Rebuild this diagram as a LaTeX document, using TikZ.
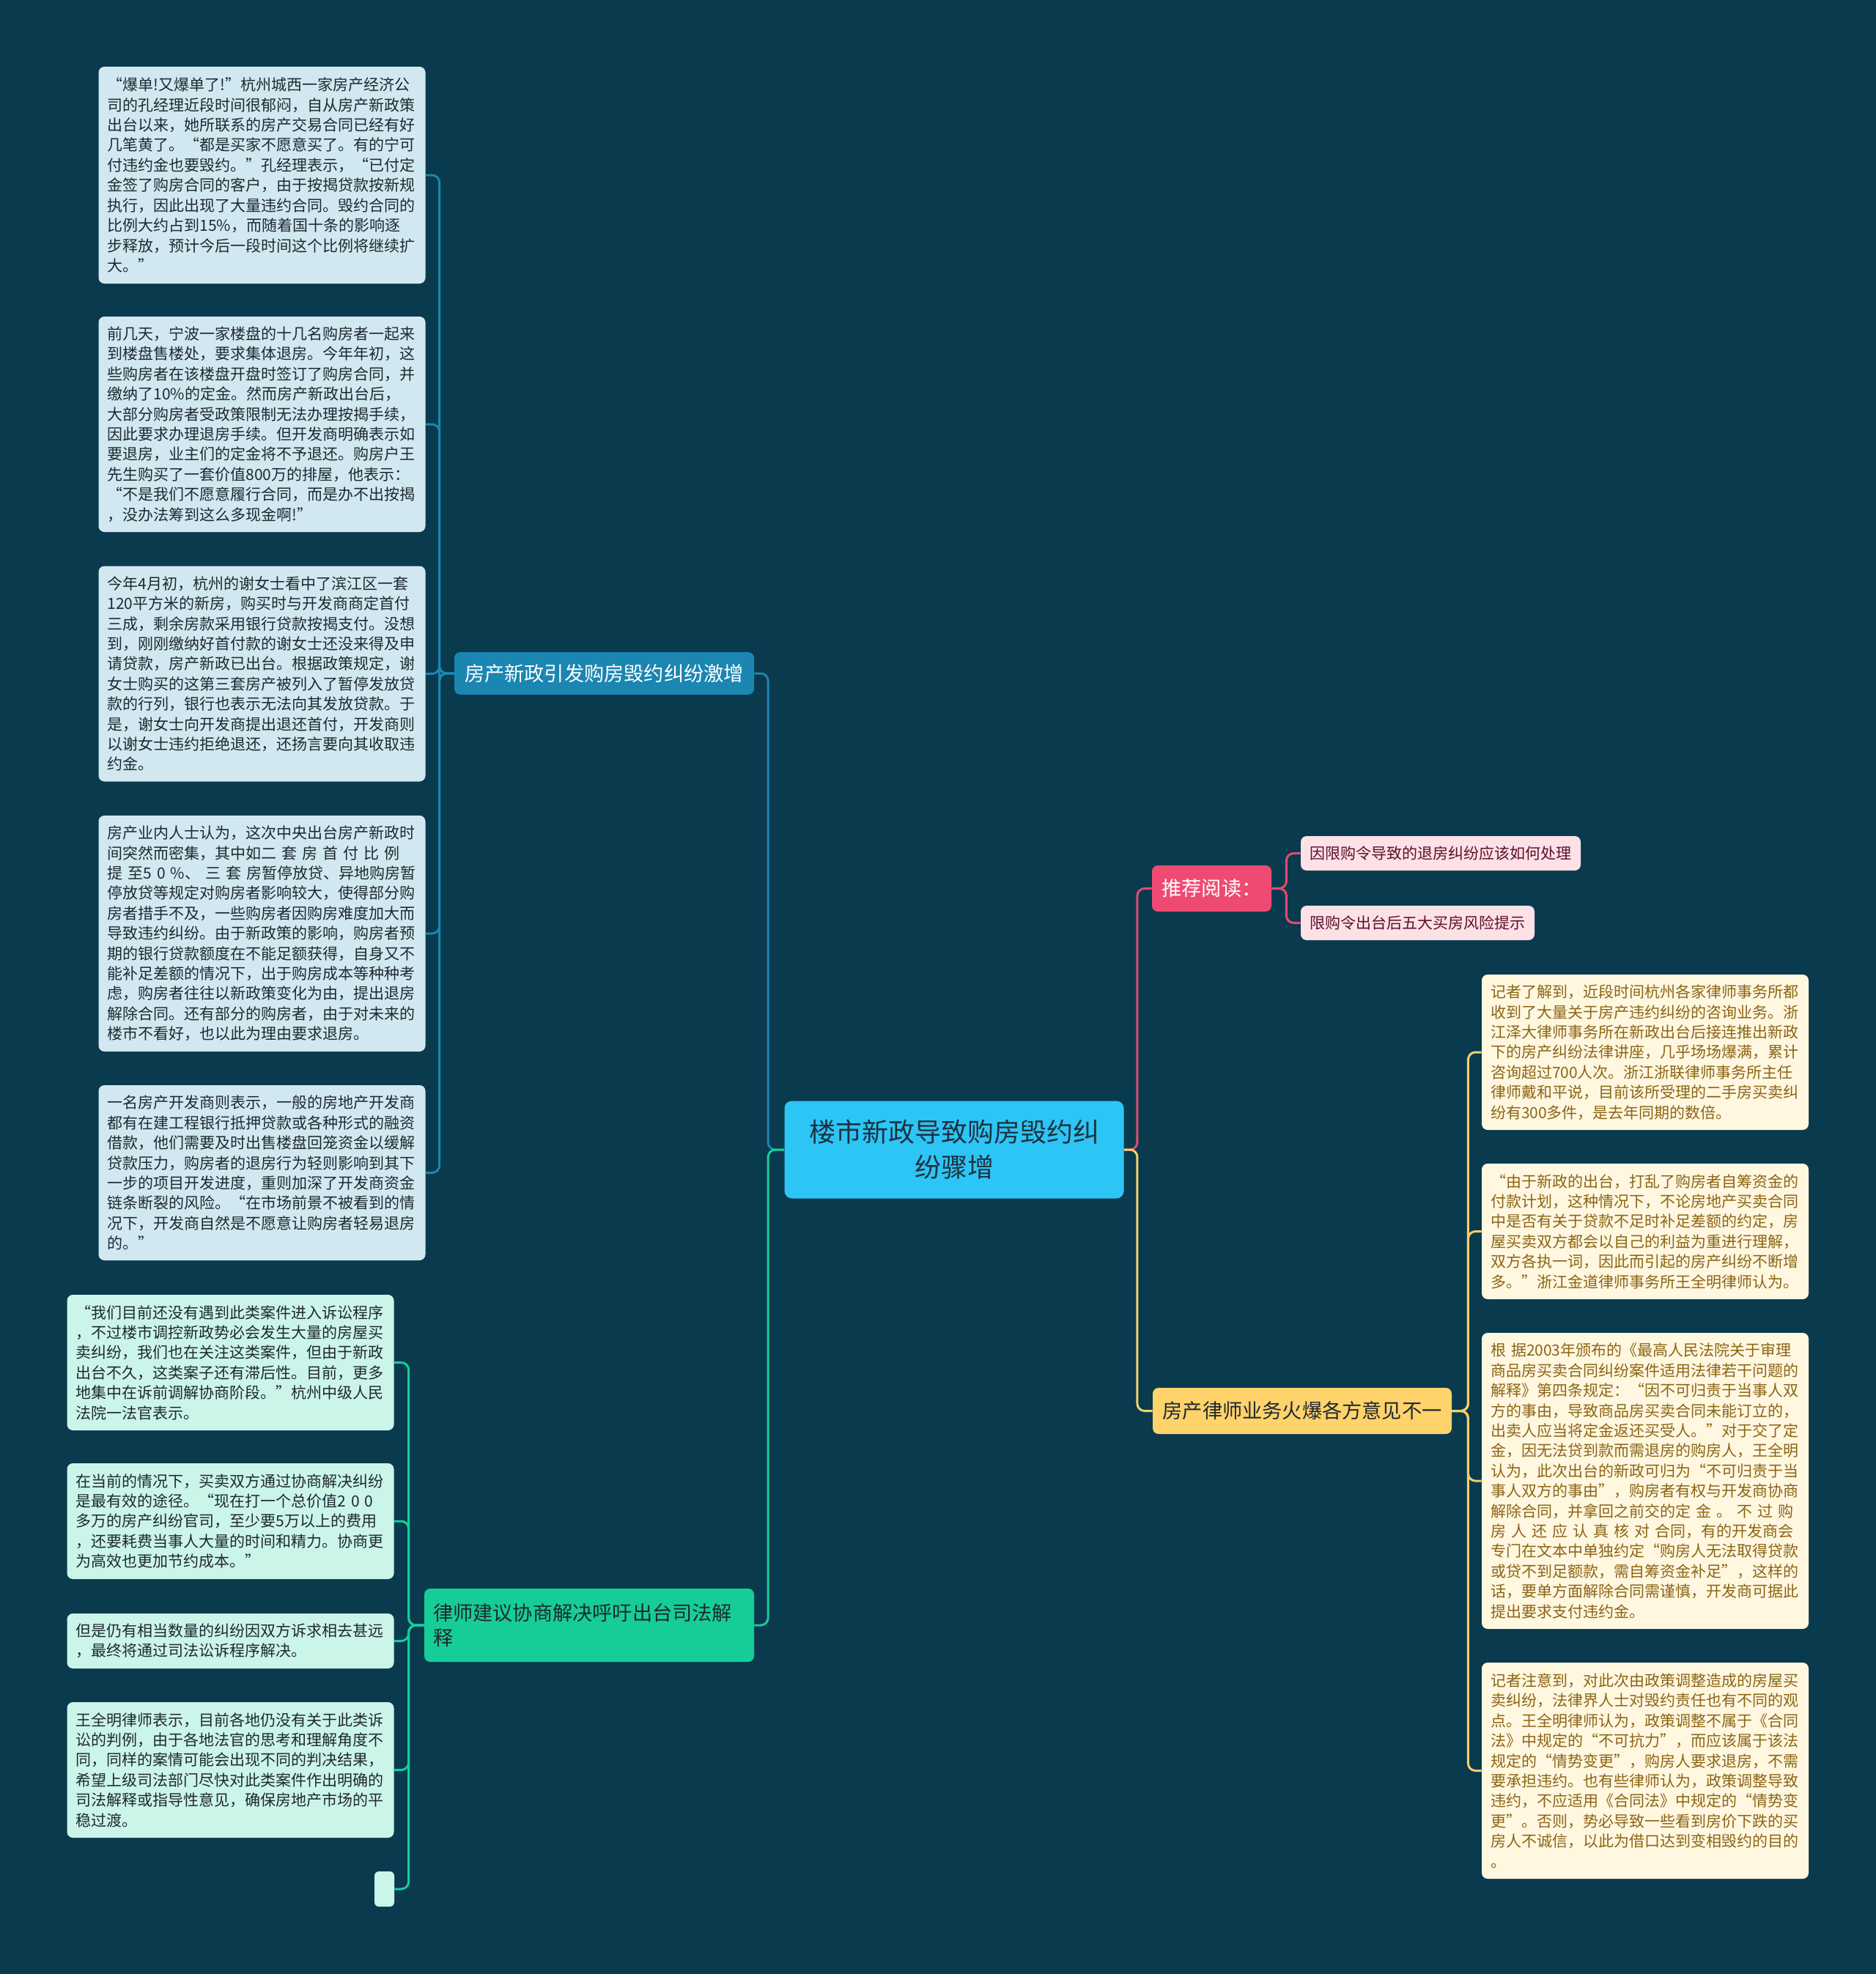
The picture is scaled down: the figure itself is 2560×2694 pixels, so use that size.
\documentclass[tikz,border=0pt]{standalone}
\usepackage{fontspec}
\setmainfont{Noto Sans CJK SC}
\usepackage{tikz}
\definecolor{bgteal}{RGB}{10,58,77}
\definecolor{rootfill}{RGB}{45,197,245}
\definecolor{rootink}{RGB}{28,50,64}
\definecolor{blueline}{RGB}{27,134,178}
\definecolor{bluebox}{RGB}{210,232,240}
\definecolor{greenline}{RGB}{22,205,152}
\definecolor{greenbox}{RGB}{204,245,234}
\definecolor{pinkline}{RGB}{225,75,115}
\definecolor{pinktopic}{RGB}{239,75,114}
\definecolor{pinkbox}{RGB}{252,225,231}
\definecolor{pinkink}{RGB}{92,16,42}
\definecolor{yellowline}{RGB}{242,208,108}
\definecolor{yellowtopic}{RGB}{255,211,107}
\definecolor{yellowbox}{RGB}{255,247,224}
\definecolor{yellowink}{RGB}{140,100,20}
\definecolor{darkink}{RGB}{30,40,48}
\newcommand{\leaffont}{\fontsize{10.5}{13.7}\selectfont}
\newcommand{\topicfont}{\fontsize{13.6}{17}\selectfont}

\begin{document}
\begin{tikzpicture}[x=0.5pt, y=-0.5pt,
  rootnode/.style={rectangle, rounded corners=5pt, fill=rootfill, text=rootink,
    minimum width=231.5pt, minimum height=66.5pt, text width=205pt,
    align=center, inner sep=0pt, font=\fontsize{18}{24}\selectfont},
  topic/.style={rectangle, rounded corners=4pt, minimum height=29pt,
    inner xsep=6pt, inner ysep=0pt, font=\topicfont},
  leaf/.style={rectangle, rounded corners=4pt, text width=211pt,
    inner xsep=6pt, inner ysep=0pt, align=left, font=\leaffont},
  leafb/.style={leaf, fill=bluebox, text=darkink},
  leafg/.style={leaf, fill=greenbox, text=darkink},
  leafy/.style={leaf, fill=yellowbox, text=yellowink},
  leafp/.style={rectangle, rounded corners=4pt, fill=pinkbox, text=pinkink,
    minimum height=23.5pt, inner sep=0pt, font=\leaffont},
  ln/.style={line width=1.5pt, rounded corners=5pt}
]
  \fill[bgteal] (0,0) rectangle (2560,2694);

  % centre
  \node[rootnode] (root) at (1302,1569) {楼市新政导致购房毁约纠\\纷骤增};

  % main topics
  \node[topic, fill=blueline, text=white, minimum width=204.5pt]
    (policy) at (824.5,919) {房产新政引发购房毁约纠纷激增};
  \node[topic, fill=greenline, text=darkink, minimum width=225pt,
    minimum height=50pt, text width=213pt, align=left]
    (lawyer) at (804,2218) {律师建议协商解决呼吁出台司法解\\释};
  \node[topic, fill=pinktopic, text=white, minimum width=81.5pt,
    minimum height=31.5pt] (reading) at (1653.5,1212.5) {推荐阅读：};
  \node[topic, fill=yellowtopic, text=darkink, minimum width=204pt,
    minimum height=31.5pt] (busy) at (1777,1925.5) {房产律师业务火爆各方意见不一};

  % recommended reading
  \node[leafp, minimum width=191pt] (readA) at (1966,1164.5)
    {因限购令导致的退房纠纷应该如何处理};
  \node[leafp, minimum width=159.5pt] (readB) at (1934.5,1259.5)
    {限购令出台后五大买房风险提示};

  % policy cases
  \node[leafb, minimum height=148pt] (caseA) at (357.5,239)
    {“爆单!又爆单了!”杭州城西一家房产经济公\\
     司的孔经理近段时间很郁闷，自从房产新政策\\
     出台以来，她所联系的房产交易合同已经有好\\
     几笔黄了。“都是买家不愿意买了。有的宁可\\
     付违约金也要毁约。”孔经理表示，“已付定\\
     金签了购房合同的客户，由于按揭贷款按新规\\
     执行，因此出现了大量违约合同。毁约合同的\\
     比例大约占到15\%，而随着国十条的影响逐\\
     步释放，预计今后一段时间这个比例将继续扩\\
     大。”};
  \node[leafb, minimum height=147pt] (caseB) at (357.5,579)
    {前几天，宁波一家楼盘的十几名购房者一起来\\
     到楼盘售楼处，要求集体退房。今年年初，这\\
     些购房者在该楼盘开盘时签订了购房合同，并\\
     缴纳了10\%的定金。然而房产新政出台后，\\
     大部分购房者受政策限制无法办理按揭手续，\\
     因此要求办理退房手续。但开发商明确表示如\\
     要退房，业主们的定金将不予退还。购房户王\\
     先生购买了一套价值800万的排屋，他表示：\\
     “不是我们不愿意履行合同，而是办不出按揭\\
     ，没办法筹到这么多现金啊!”};
  \node[leafb, minimum height=147pt] (caseC) at (357.5,919.5)
    {今年4月初，杭州的谢女士看中了滨江区一套\\
     120平方米的新房，购买时与开发商商定首付\\
     三成，剩余房款采用银行贷款按揭支付。没想\\
     到，刚刚缴纳好首付款的谢女士还没来得及申\\
     请贷款，房产新政已出台。根据政策规定，谢\\
     女士购买的这第三套房产被列入了暂停发放贷\\
     款的行列，银行也表示无法向其发放贷款。于\\
     是，谢女士向开发商提出退还首付，开发商则\\
     以谢女士违约拒绝退还，还扬言要向其收取违\\
     约金。};
  \node[leafb, minimum height=161pt] (caseD) at (357.5,1274)
    {房产业内人士认为，这次中央出台房产新政时\\
     间突然而密集，其中如二 套 房 首 付 比 例\\
     提 至5 0 \%、 三 套 房暂停放贷、异地购房暂\\
     停放贷等规定对购房者影响较大，使得部分购\\
     房者措手不及，一些购房者因购房难度加大而\\
     导致违约纠纷。由于新政策的影响，购房者预\\
     期的银行贷款额度在不能足额获得，自身又不\\
     能补足差额的情况下，出于购房成本等种种考\\
     虑，购房者往往以新政策变化为由，提出退房\\
     解除合同。还有部分的购房者，由于对未来的\\
     楼市不看好，也以此为理由要求退房。};
  \node[leafb, minimum height=119.5pt] (caseE) at (357.5,1600.5)
    {一名房产开发商则表示，一般的房地产开发商\\
     都有在建工程银行抵押贷款或各种形式的融资\\
     借款，他们需要及时出售楼盘回笼资金以缓解\\
     贷款压力，购房者的退房行为轻则影响到其下\\
     一步的项目开发进度，重则加深了开发商资金\\
     链条断裂的风险。“在市场前景不被看到的情\\
     况下，开发商自然是不愿意让购房者轻易退房\\
     的。”};

  % lawyer advice
  \node[leafg, minimum height=92.5pt] (adviceA) at (314.5,1859.5)
    {“我们目前还没有遇到此类案件进入诉讼程序\\
     ，不过楼市调控新政势必会发生大量的房屋买\\
     卖纠纷，我们也在关注这类案件，但由于新政\\
     出台不久，这类案子还有滞后性。目前，更多\\
     地集中在诉前调解协商阶段。”杭州中级人民\\
     法院一法官表示。};
  \node[leafg, minimum height=79pt] (adviceB) at (314.5,2076)
    {在当前的情况下，买卖双方通过协商解决纠纷\\
     是最有效的途径。“现在打一个总价值2 0 0\\
     多万的房产纠纷官司，至少要5万以上的费用\\
     ，还要耗费当事人大量的时间和精力。协商更\\
     为高效也更加节约成本。”};
  \node[leafg, minimum height=37.5pt] (adviceC) at (314.5,2239.5)
    {但是仍有相当数量的纠纷因双方诉求相去甚远\\
     ，最终将通过司法讼诉程序解决。};
  \node[leafg, minimum height=92.5pt] (adviceD) at (314.5,2415.5)
    {王全明律师表示，目前各地仍没有关于此类诉\\
     讼的判例，由于各地法官的思考和理解角度不\\
     同，同样的案情可能会出现不同的判决结果，\\
     希望上级司法部门尽快对此类案件作出明确的\\
     司法解释或指导性意见，确保房地产市场的平\\
     稳过渡。};
  \node[rectangle, rounded corners=3pt, fill=greenbox, minimum width=13.5pt,
    minimum height=24pt, inner sep=0pt] (adviceE) at (524.5,2578) {};

  % lawyers' views
  \node[leafy, minimum height=106pt] (viewA) at (2245,1436)
    {记者了解到，近段时间杭州各家律师事务所都\\
     收到了大量关于房产违约纠纷的咨询业务。浙\\
     江泽大律师事务所在新政出台后接连推出新政\\
     下的房产纠纷法律讲座，几乎场场爆满，累计\\
     咨询超过700人次。浙江浙联律师事务所主任\\
     律师戴和平说，目前该所受理的二手房买卖纠\\
     纷有300多件，是去年同期的数倍。};
  \node[leafy, minimum height=92.5pt] (viewB) at (2245,1680.5)
    {“由于新政的出台，打乱了购房者自筹资金的\\
     付款计划，这种情况下，不论房地产买卖合同\\
     中是否有关于贷款不足时补足差额的约定，房\\
     屋买卖双方都会以自己的利益为重进行理解，\\
     双方各执一词，因此而引起的房产纠纷不断增\\
     多。”浙江金道律师事务所王全明律师认为。};
  \node[leafy, minimum height=202pt] (viewC) at (2245,2021)
    {根 据2003年颁布的《最高人民法院关于审理\\
     商品房买卖合同纠纷案件适用法律若干问题的\\
     解释》第四条规定：“因不可归责于当事人双\\
     方的事由，导致商品房买卖合同未能订立的，\\
     出卖人应当将定金返还买受人。”对于交了定\\
     金，因无法贷到款而需退房的购房人，王全明\\
     认为，此次出台的新政可归为“不可归责于当\\
     事人双方的事由”，购房者有权与开发商协商\\
     解除合同，并拿回之前交的定 金 。 不 过 购\\
     房 人 还 应 认 真 核 对 合同，有的开发商会\\
     专门在文本中单独约定“购房人无法取得贷款\\
     或贷不到足额款，需自筹资金补足”，这样的\\
     话，要单方面解除合同需谨慎，开发商可据此\\
     提出要求支付违约金。};
  \node[leafy, minimum height=147.5pt] (viewD) at (2245,2416.5)
    {记者注意到，对此次由政策调整造成的房屋买\\
     卖纠纷，法律界人士对毁约责任也有不同的观\\
     点。王全明律师认为，政策调整不属于《合同\\
     法》中规定的“不可抗力”，而应该属于该法\\
     规定的“情势变更”，购房人要求退房，不需\\
     要承担违约。也有些律师认为，政策调整导致\\
     违约，不应适用《合同法》中规定的“情势变\\
     更”。否则，势必导致一些看到房价下跌的买\\
     房人不诚信，以此为借口达到变相毁约的目的\\
     。};

  % connectors
  \draw[ln, blueline] (root.west) -- ++(-22,0) |- (policy.east);
  \draw[ln, greenline] (root.west) -- ++(-22,0) |- (lawyer.east);
  \draw[ln, pinkline] (root.east) -- ++(18,0) |- (reading.west);
  \draw[ln, yellowline] (root.east) -- ++(18,0) |- (busy.west);
  \foreach \leafname in {caseA,caseB,caseC,caseD,caseE}
    \draw[ln, blueline] (policy.west) -- ++(-20,0) |- (\leafname.east);
  \foreach \leafname in {adviceA,adviceB,adviceC,adviceD,adviceE}
    \draw[ln, greenline] (lawyer.west) -- ++(-21,0) |- (\leafname.east);
  \foreach \leafname in {readA,readB}
    \draw[ln, pinkline] (reading.east) -- ++(20,0) |- (\leafname.west);
  \foreach \leafname in {viewA,viewB,viewC,viewD}
    \draw[ln, yellowline] (busy.east) -- ++(22,0) |- (\leafname.west);
\end{tikzpicture}
\end{document}
